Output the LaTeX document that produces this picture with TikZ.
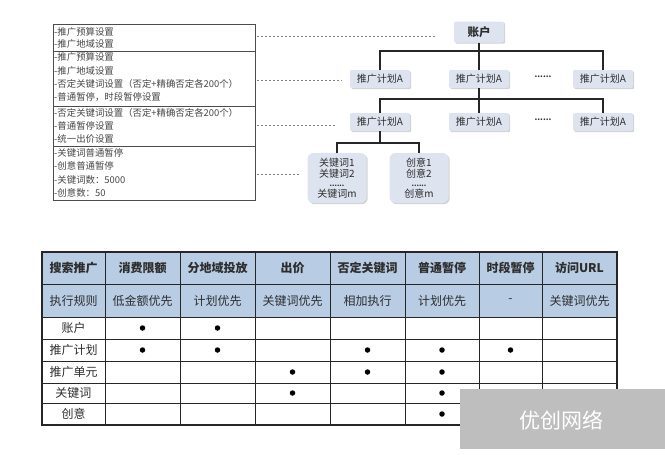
\documentclass[tikz,border=0pt]{standalone}
\usepackage{fontspec}
\setmainfont{Noto Sans CJK SC}
\usetikzlibrary{shadows}
\definecolor{hdr}{RGB}{184,204,228}
\definecolor{tfill}{RGB}{221,227,239}
\definecolor{txt}{RGB}{45,45,45}
\definecolor{ltxt}{RGB}{70,70,70}
\definecolor{wm}{RGB}{190,190,190}
\begin{document}
\begin{tikzpicture}[x=1pt,y=-1pt,
  lbl/.style={anchor=west,inner sep=0pt,font=\fontsize{9.4}{10}\selectfont,text=ltxt},
  tnode/.style={fill=tfill,rounded corners=2pt,minimum width=60pt,minimum height=18pt,inner sep=1pt,
    font=\fontsize{10}{11}\selectfont,text=txt,drop shadow={shadow xshift=1.2pt,shadow yshift=-1.2pt,opacity=0.35}},
  bignode/.style={tnode,minimum width=59pt,minimum height=50pt,rounded corners=6pt,align=center,
    font=\fontsize{10}{11}\selectfont},
  conn/.style={line width=1.2pt,black!85},
  dashline/.style={gray,line width=0.5pt,dash pattern=on 2pt off 2pt},
  hcell/.style={font=\bfseries\fontsize{12}{13}\selectfont,text=txt,inner sep=0pt},
  rcell/.style={font=\fontsize{12}{13}\selectfont,text=txt,inner sep=0pt},
  dotmark/.style={circle,fill=black,inner sep=0pt,minimum size=5.5pt}]
\useasboundingbox (0,0) rectangle (665,455);
\fill[white] (0,0) rectangle (665,455);
% left box
\draw[black!70,line width=0.7pt] (53,24) rectangle (255,200);
\draw[black!70,line width=0.7pt] (53,51)--(255,51) (53,106)--(255,106) (53,146)--(255,146);
\node[lbl] (l1) at (54,32) {-推广预算设置};
\node[lbl] (l2) at (54,44) {-推广地域设置};
\node[lbl] (l3) at (54,57) {-推广预算设置};
\node[lbl] (l4) at (54,70.5) {-推广地域设置};
\node[lbl] (l5) at (54,84) {-否定关键词设置（否定+精确否定各200个）};
\node[lbl] (l6) at (54,97.5) {-普通暂停，时段暂停设置};
\node[lbl] (l7) at (54,113) {-否定关键词设置（否定+精确否定各200个）};
\node[lbl] (l8) at (54,126) {-普通暂停设置};
\node[lbl] (l9) at (54,139) {-统一出价设置};
\node[lbl] (l10) at (54,153) {-关键词普通暂停};
\node[lbl] (l11) at (54,166) {-创意普通暂停};
\node[lbl] (l12) at (54,180) {-关键词数：5000};
\node[lbl] (l13) at (54,193) {-创意数：50};
% dashed guides
\coordinate (s1) at (257,36); \coordinate (e1) at (435,36);
\coordinate (s2) at (257,80); \coordinate (e2) at (342,80);
\coordinate (s3) at (257,125); \coordinate (e3) at (335,125);
\coordinate (s4) at (257,174); \coordinate (e4) at (300,174);
\draw[dashline] (s1)--(e1); \draw[dashline] (s2)--(e2); \draw[dashline] (s3)--(e3); \draw[dashline] (s4)--(e4);
% tree
\node[tnode,minimum width=50pt,minimum height=21pt,font=\bfseries\fontsize{11.5}{12}\selectfont] (acc) at (479,32) {账户};
\node[tnode] (p1) at (380,79) {推广计划A};
\node[tnode] (p2) at (479,79) {推广计划A};
\node[tnode] (p3) at (603,79) {推广计划A};
\node[font=\bfseries\fontsize{8}{9}\selectfont,text=txt] (d1) at (543,77) {......};
\node[tnode] (u1) at (380,122) {推广计划A};
\node[tnode] (u2) at (479,122) {推广计划A};
\node[tnode] (u3) at (603,122) {推广计划A};
\node[font=\bfseries\fontsize{8}{9}\selectfont,text=txt] (d2) at (543,120) {......};
\node[bignode] (k) at (337,178) {关键词1\\关键词2\\[-2pt]{\fontsize{7}{7}\selectfont\textbf{......}}\\[0pt]关键词m};
\node[bignode] (c) at (419,178) {创意1\\创意2\\[-2pt]{\fontsize{7}{7}\selectfont\textbf{......}}\\[0pt]创意m};
\coordinate (b1) at (479,51);
\coordinate (b2) at (479,99);
\coordinate (b3) at (380,143);
\draw[conn] (acc.south)--(p2.north);
\draw[conn] (p1.north) |- (b1) -| (p3.north);
\draw[conn] (p2.south)--(u2.north);
\draw[conn] (u1.north) |- (b2) -| (u3.north);
\draw[conn] (u1.south)--(b3);
\draw[conn] (k.north) |- (b3) -| (c.north);
% table
\fill[hdr] (42,252) rectangle (617,317);
\foreach \x in {105,180,255,330,405,479,542} \draw[black!85,line width=0.8pt] (\x,252)--(\x,425);
\foreach \y in {284,317,339,361,383,403} \draw[black!85,line width=0.8pt] (42,\y)--(617,\y);
\draw[black!85,line width=1.8pt] (42,252) rectangle (617,425);
\foreach \x/\t [count=\i] in {73.5/搜索推广,142.5/消费限额,217.5/分地域投放,292.5/出价,367.5/否定关键词,442/普通暂停,510.5/时段暂停,579.5/访问URL}
  \node[hcell] (h\i) at (\x,268) {\t};
\foreach \x/\t [count=\i] in {73.5/执行规则,142.5/低金额优先,217.5/计划优先,292.5/关键词优先,367.5/相加执行,442/计划优先,510.5/-,579.5/关键词优先}
  \node[rcell] (r\i) at (\x,300.5) {\t};
\foreach \y/\t [count=\i] in {328/账户,350/推广计划,372/推广单元,393/关键词,414/创意}
  \node[rcell] (c\i) at (73.5,\y) {\t};
\foreach \x/\y [count=\i] in {142.5/328,217.5/328,142.5/350,217.5/350,367.5/350,442/350,510.5/350,292.5/372,367.5/372,442/372,292.5/393,442/393,442/414}
  \node[dotmark] (m\i) at (\x,\y) {};
% watermark
\fill[wm] (460,389) rectangle (665,449);
\node[text=white,font=\fontsize{21}{22}\selectfont] (wmt) at (561,420) {优创网络};
\end{tikzpicture}
\end{document}
